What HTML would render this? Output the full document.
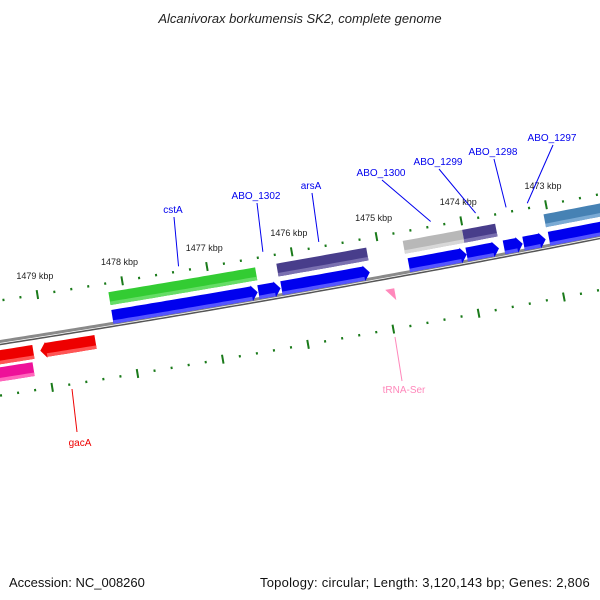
<!DOCTYPE html>
<html><head><meta charset="utf-8"><style>
html,body{margin:0;padding:0;background:#fff}
svg{display:block}
text{font-family:"Liberation Sans",sans-serif}
</style></head><body>
<svg id="map" width="600" height="600" viewBox="0 0 600 600">
<text x="300" y="23" text-anchor="middle" font-size="13" font-style="italic" fill="#222">Alcanivorax borkumensis SK2, complete genome</text>
<text x="9" y="587" font-size="13" fill="#111">Accession: NC_008260</text>
<text x="590" y="587" text-anchor="end" font-size="13" letter-spacing="0.25" fill="#111">Topology: circular; Length: 3,120,143 bp; Genes: 2,806</text>
<g id="layer"></g>
</svg>
<script>
// data (kbp positions)
const majorTicks = [1479, 1478, 1477, 1476, 1475, 1474, 1473];
const tickLabels = ["1479 kbp","1478 kbp","1477 kbp","1476 kbp","1475 kbp","1474 kbp","1473 kbp"];
const cdsNames = ["cstA","ABO_1302","arsA","ABO_1300","ABO_1299","ABO_1298","ABO_1297","next"];
const cdsStart = [1478.18, 1476.46, 1476.19, 1474.69, 1474.01, 1473.57, 1473.34, 1473.04];
const cdsEnd   = [1476.47, 1476.20, 1475.15, 1474.01, 1473.63, 1473.35, 1473.08, 1472.3];
const cogStart = [1478.18, 1476.20, 1474.71, 1474.01, 1473.05];
const cogEnd   = [1476.45, 1475.14, 1474.01, 1473.62, 1472.3];
const cogColor = ["#33cc33","#483d8b","#b8b8b8","#483d8b","#4682b4"];
const revStart = [1479.8, 1479.07];
const revEnd   = [1479.15, 1478.42];
const labelX = [173, 256, 311, 381, 438, 493, 552];
const labelY = [213, 199, 189, 176, 165, 155, 141];

const svg = document.getElementById('layer');
const NS = 'http://www.w3.org/2000/svg';
function kx(k){ return 129 + (1478 - k) * 85; }
function by(x){ return 343 - 0.1567 * x - 3.33e-5 * x * x; }
function slope(x){ return -0.1567 - 6.66e-5 * x; }
function pt(x, d){ const s = slope(x), n = Math.hypot(s, 1); return [x + s / n * d, by(x) - d / n]; }
function mk(tag, attrs, name){ const e = document.createElementNS(NS, tag); for (const k in attrs) e.setAttribute(k, attrs[k]);   svg.appendChild(e); return e; }
function band(x1, x2, d1, d2){ const p = []; for (let x = x1; x <= x2; x += 5) p.push(pt(x, d2)); p.push(pt(x2, d2)); p.push(pt(x2, d1)); for (let x = x2; x >= x1; x -= 5) p.push(pt(x, d1)); p.push(pt(x1, d1)); return p; }
function arrowPoly(x1, x2, d1, d2, dir){
  const L = 6, m = (d1 + d2) / 2;
  if (dir === 1){ const pts = band(x1, x2 - L, d1, d2); const tip = pt(x2, m); const top = pt(x2 - L, d2 + 1), bot = pt(x2 - L, d1 - 1); const n = Math.floor(pts.length / 2); return pts.slice(0, n).concat([top, tip, bot]).concat(pts.slice(n)); }
  if (dir === -1){ const pts = band(x1 + L, x2, d1, d2); pts.push(pt(x1 + L, d1 - 1), pt(x1, m), pt(x1 + L, d2 + 1)); return pts; }
  return band(x1, x2, d1, d2);
}
function poly(p, fill, name){ return mk('polygon', {points: p.map(q => q[0].toFixed(1) + ',' + q[1].toFixed(1)).join(' '), fill: fill}, name); }
function feature(x1, x2, d1, d2, color, light, dir, name){
  poly(arrowPoly(x1, x2, d1, d2, dir), color, name);
  poly(band(x1 + (dir === -1 ? 6 : 0), x2 - (dir === 1 ? 6 : 0), d1, d1 + 3.5), light, name + '-shade');
}
// backbone
{ const a = [], b = []; for (let x = -5; x <= 605; x += 5){ a.push(pt(x, 1.5)); b.push(pt(x, -1.5)); }
  mk('path', {d: 'M' + a.map(q => q.join(',')).join(' L'), stroke: '#8a8a8a', 'stroke-width': 3, fill: 'none'}, 'backbone');
  mk('path', {d: 'M' + b.map(q => q.join(',')).join(' L'), stroke: '#555', 'stroke-width': 1.5, fill: 'none'}, 'backbone-shadow'); }
// ticks
for (let k = 1480.4; k >= 1472; k -= 0.2){
  const kk = Math.round(k * 10) / 10, maj = Math.abs(kk - Math.round(kk)) < 0.01, x = kx(kk);
  if (x < -10 || x > 620) continue;
  [[42, 'outer'], [-52, 'inner']].forEach(([d, r]) => {
    const len = maj ? 4.5 : 1.2; const a = pt(x, d - len), b = pt(x, d + len);
    mk('line', {x1: a[0], y1: a[1], x2: b[0], y2: b[1], stroke: '#1a7a1a', 'stroke-width': 2}, r + (maj ? '-major-tick' : '-minor-tick'));
  });
}
majorTicks.forEach((k, i) => { const p = pt(kx(k), 58); const t = mk('text', {x: p[0], y: p[1], 'text-anchor': 'middle', 'font-size': 9, fill: '#222'}, 'tick-label-' + k); t.textContent = tickLabels[i]; });
// features
cogStart.forEach((s, i) => feature(kx(s), kx(cogEnd[i]), 20, 33, cogColor[i], i === 0 ? '#66dd66' : (i === 2 ? '#d8d8d8' : (i === 4 ? '#7aaad4' : '#7a70b0')), 0, 'cog-feature-' + i));
cdsStart.forEach((s, i) => feature(kx(s), kx(cdsEnd[i]), 1, 15, '#0000ee', '#5555ff', cdsNames[i] === 'next' ? 0 : 1, 'cds-' + cdsNames[i]));
feature(kx(revStart[0]), kx(revEnd[0]), -21, -7, '#ee0000', '#ff5555', 0, 'reverse-gene-0');
feature(kx(revStart[1]), kx(revEnd[1]), -21, -7, '#ee0000', '#ff5555', -1, 'gacA-gene');
feature(-15, kx(1479.18), -38, -24, '#ee1199', '#ff66bb', 0, 'pink-feature');
poly([pt(383, -12), pt(392, -12), pt(392, -24)], '#ff88bb', 'tRNA-Ser-feature');
// labels
cdsNames.slice(0, 7).forEach((n, i) => {
  const s = kx(cdsStart[i]), e = kx(cdsEnd[i]), a = pt((s + e) / 2, 47);
  const tx = labelX[i], ty = labelY[i];
  mk('line', {x1: tx + 1, y1: ty + 4, x2: a[0], y2: a[1], stroke: '#0000ee', 'stroke-width': 1}, 'label-line-' + n);
  const t = mk('text', {x: tx, y: ty, 'text-anchor': 'middle', 'font-size': 10, fill: '#0000ee'}, 'label-' + n); t.textContent = n;
});
mk('line', {x1: 72, y1: 389, x2: 77, y2: 432, stroke: '#ee0000', 'stroke-width': 1}, 'label-line-gacA');
{ const t = mk('text', {x: 80, y: 446, 'text-anchor': 'middle', 'font-size': 10, fill: '#ee0000'}, 'label-gacA'); t.textContent = 'gacA'; }
mk('line', {x1: 395, y1: 337, x2: 402, y2: 381, stroke: '#ff88bb', 'stroke-width': 1}, 'label-line-tRNA-Ser');
{ const t = mk('text', {x: 404, y: 393, 'text-anchor': 'middle', 'font-size': 10, fill: '#ff88bb'}, 'label-tRNA-Ser'); t.textContent = 'tRNA-Ser'; }
</script>
</body></html>
